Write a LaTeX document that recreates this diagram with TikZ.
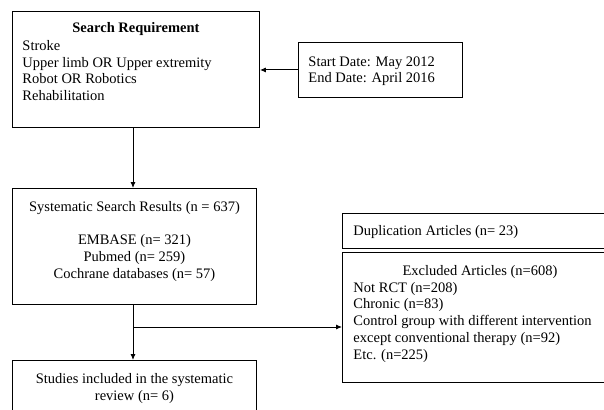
\documentclass[tikz,border=0pt]{standalone}
\usepackage{fontspec}
\setmainfont{Liberation Serif}
\usetikzlibrary{positioning,arrows.meta}

\begin{document}
\begin{tikzpicture}[>={Latex[length=6pt,width=5pt]}, x=1pt, y=-1pt, line width=0.9pt,
    box/.style={draw, rectangle, anchor=north west, inner sep=0pt},
    txt/.style={inner sep=0pt, font=\fontsize{14.5}{16.7}\selectfont}]
            \useasboundingbox (0,0) rectangle (604,409);
            \clip (0,0) rectangle (604,409);

            \node[box, minimum width=247, minimum height=116] (search) at (12,11) {};
            \node[box, minimum width=164, minimum height=55] (dates) at (298,42) {};
            \node[box, minimum width=244, minimum height=116] (results) at (12,188) {};
            \node[box, minimum width=244, minimum height=80] (included) at (12,360) {};
            \node[box, minimum width=280, minimum height=35] (dupl) at (342,213) {};
            \node[box, minimum width=276, minimum height=130] (excl) at (342,252) {};

            \node[txt, anchor=base, font=\fontsize{14.5}{16.7}\selectfont\bfseries] (searchtitle) at (search.center |- 0,33) {Search Requirement};
            \node[txt, anchor=base west, align=left] (searchterms) at (22,100.5) {Stroke\\Upper limb OR Upper extremity\\Robot OR Robotics\\Rehabilitation};
            \node[txt, anchor=base west, align=left] (datestext) at (308,83) {Start Date: May 2012\\End Date: April 2016};
            \node[txt, anchor=base, align=center] (resultstext) at (results.center |- 0,278) {Systematic Search Results (n = 637)\\ \mbox{}\\EMBASE (n= 321)\\Pubmed (n= 259)\\Cochrane databases (n= 57)};
            \node[txt, anchor=base, align=center] (includedtext) at (included.north |- 0,400) {Studies included in the systematic\\review (n= 6)};
            \node[txt, anchor=base west] (dupltext) at (353,235) {Duplication Articles (n= 23)};
            \node[txt, anchor=base] (excltitle) at (480,275) {Excluded Articles (n=608)};
            \node[txt, anchor=base west, align=left] (excltext) at (353,359) {Not RCT (n=208)\\Chronic (n=83)\\Control group with different intervention\\except conventional therapy (n=92)\\Etc. (n=225)};

            \draw[->] (dates.west) -- (dates.west -| search.east);
            \draw[->] (search.south -| 133,0) -- (results.north -| 133,0);
            \draw[->] (results.south -| 133,0) -- (included.north -| 133,0);
            \coordinate (split) at (133,327);
            \draw[->] (split) -- (split -| excl.west);
        \end{tikzpicture}
\end{document}
